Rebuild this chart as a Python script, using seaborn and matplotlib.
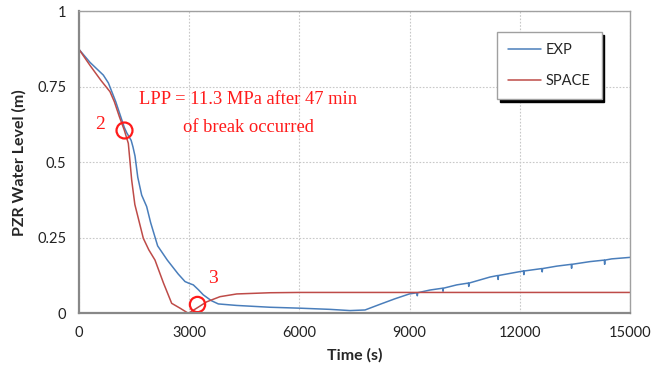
import numpy as np
import pandas as pd
import matplotlib
matplotlib.use("Agg")
import matplotlib.pyplot as plt
import seaborn as sns

# ---- data ----
exp_t = [0, 300, 662, 800, 1000, 1233, 1300, 1420, 1470, 1525, 1600, 1706, 1842, 1950,
         2141, 2404, 2700, 2886, 3000, 3112, 3250, 3384, 3600, 3793, 4293, 5200, 6000,
         6834, 7378, 7787, 8200, 8600, 8993, 9200, 9210, 9220, 9556, 9900, 9910, 9920,
         10283, 10600, 10610, 10620, 11190, 11400, 11410, 11420, 12007, 12100, 12110,
         12120, 12600, 12610, 12620, 13005, 13400, 13410, 13420, 13912, 14300, 14310,
         14320, 14500, 15000]
exp_y = [0.873, 0.83, 0.788, 0.762, 0.70, 0.615, 0.597, 0.572, 0.55, 0.52, 0.45, 0.391,
         0.353, 0.30, 0.223, 0.176, 0.13, 0.105, 0.099, 0.094, 0.078, 0.061, 0.042, 0.031,
         0.026, 0.020, 0.017, 0.013, 0.009, 0.011, 0.03, 0.048, 0.064, 0.068, 0.058, 0.068,
         0.077, 0.083, 0.073, 0.083, 0.094, 0.100, 0.089, 0.100, 0.120, 0.125, 0.112, 0.125,
         0.138, 0.140, 0.128, 0.140, 0.148, 0.137, 0.148, 0.156, 0.162, 0.149, 0.162,
         0.171, 0.176, 0.162, 0.176, 0.180, 0.185]

space_t = [0, 300, 600, 844, 962, 1100, 1233, 1343, 1434, 1520, 1615, 1751, 1900, 2069,
           2300, 2523, 2750, 2976, 3204, 3476, 3839, 4293, 5200, 6000, 15000]
space_y = [0.873, 0.82, 0.77, 0.733, 0.70, 0.65, 0.606, 0.562, 0.441, 0.36, 0.314, 0.248,
           0.21, 0.176, 0.10, 0.033, 0.017, 0.0, 0.017, 0.038, 0.055, 0.064, 0.068, 0.069,
           0.069]

x_ticks = [0, 3000, 6000, 9000, 12000, 15000]
y_ticks = [0, 0.25, 0.5, 0.75, 1]
y_tick_labels = ["0", "0.25", "0.5", "0.75", "1"]

df = pd.concat([
    pd.DataFrame({"Time": exp_t, "Level": exp_y, "Series": "EXP"}),
    pd.DataFrame({"Time": space_t, "Level": space_y, "Series": "SPACE"}),
])

sns.set_style("white")
plt.rcParams["font.family"] = ["Lato", "DejaVu Sans"]

fig = plt.figure(figsize=(6.64, 3.72), dpi=100)
ax = fig.add_axes([79 / 664, 1 - 313.3 / 372, 551 / 664, 302.3 / 372])

palette = {"EXP": "#4A7EBB", "SPACE": "#BE4B48"}
sns.lineplot(data=df, x="Time", y="Level", hue="Series", palette=palette,
             sort=False, estimator=None, linewidth=1.1, ax=ax)

ax.set_xlim(0, 15000)
ax.set_ylim(0, 1)
ax.set_xticks(x_ticks)
ax.set_yticks(y_ticks)
ax.set_yticklabels(y_tick_labels)
ax.tick_params(axis="both", labelsize=10.5, colors="#222222", length=5,
               width=1.0, direction="out", pad=4)
ax.tick_params(axis="both", color="#888888")
ax.grid(True, linestyle=(0, (1.5, 1.5)), color="#c8c8c8", linewidth=0.8)
for side in ["left", "bottom", "right", "top"]:
    ax.spines[side].set_visible(True)
    ax.spines[side].set_color("#a0a0a0")
    ax.spines[side].set_linewidth(1.0)
ax.spines["left"].set_color("#888888")
ax.spines["left"].set_linewidth(1.6)
ax.spines["bottom"].set_color("#888888")
ax.spines["bottom"].set_linewidth(1.6)

ax.set_xlabel("Time (s)", fontsize=11.5, fontweight="bold", labelpad=6)
ax.set_ylabel("PZR Water Level (m)", fontsize=11.5, fontweight="bold", labelpad=8)

# annotations
red = "#FF1A1A"
serif = ["Liberation Serif", "DejaVu Serif"]
ax.text(4600, 0.706, "LPP = 11.3 MPa after 47 min", color=red, fontsize=13.3,
        family=serif, ha="center", va="center")
ax.text(4600, 0.616, "of break occurred", color=red, fontsize=13.3,
        family=serif, ha="center", va="center")
ax.text(572, 0.626, "2", color=red, fontsize=14, family=serif, ha="center", va="center")
ax.text(3640, 0.116, "3", color=red, fontsize=14, family=serif, ha="center", va="center")
ax.plot([1233], [0.606], marker="o", markersize=11.5, markerfacecolor="none",
        markeredgecolor=red, markeredgewidth=1.6, linestyle="none")
ax.plot([3221], [0.031], marker="o", markersize=11, markerfacecolor="none",
        markeredgecolor=red, markeredgewidth=1.6, linestyle="none")

leg = ax.legend(loc="upper left", bbox_to_anchor=(0.7586, 0.93), frameon=True,
                fancybox=False, fontsize=10.5, handlelength=2.3, handletextpad=0.3,
                labelspacing=1.15, borderpad=0.75, borderaxespad=0,
                shadow={"color": "black", "alpha": 1.0})
leg.get_frame().set_edgecolor("#a0a0a0")
leg.get_frame().set_linewidth(1.0)
leg.set_title(None)

fig.savefig("out.png", dpi=100)
